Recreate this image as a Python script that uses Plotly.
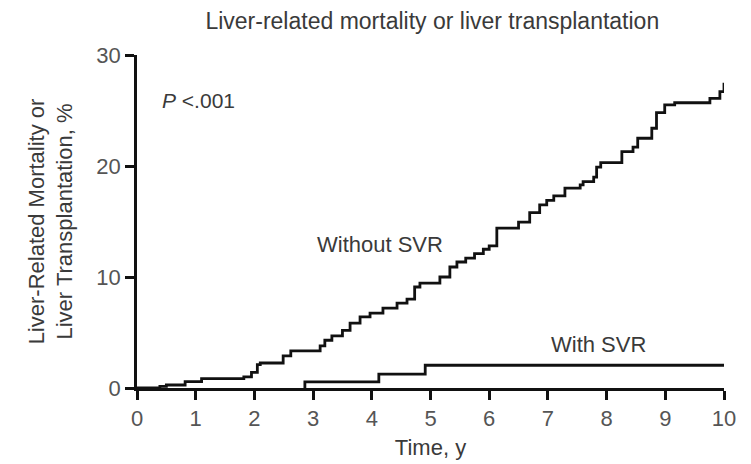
import plotly.graph_objects as go

# Without SVR: step times (years) and cumulative incidence (%)
without_t = [0.0, 0.39, 0.5, 0.82, 1.1, 1.82, 1.95, 2.05, 2.1, 2.49, 2.62, 3.12, 3.2, 3.32,
             3.5, 3.63, 3.8, 3.97, 4.19, 4.43, 4.6, 4.73, 4.82, 5.16, 5.33, 5.45, 5.6, 5.75,
             5.9, 6.0, 6.13, 6.5, 6.69, 6.86, 6.98, 7.1, 7.29, 7.55, 7.6, 7.78, 7.83, 7.9,
             8.26, 8.45, 8.53, 8.77, 8.85, 8.99, 9.16, 9.76, 9.93, 10.0]
without_v = [0.0, 0.15, 0.27, 0.57, 0.85, 1.0, 1.4, 2.1, 2.25, 2.9, 3.35, 3.8, 4.3, 4.7,
             5.2, 5.85, 6.4, 6.75, 7.2, 7.65, 8.0, 9.1, 9.45, 10.0, 10.9, 11.35, 11.7, 12.1,
             12.5, 12.8, 14.4, 14.95, 15.8, 16.5, 16.9, 17.3, 18.0, 18.3, 18.6, 19.0, 19.9, 20.3,
             21.3, 21.7, 22.5, 23.4, 24.8, 25.5, 25.7, 26.1, 26.7, 27.5]

# With SVR
with_t = [2.86, 4.12, 4.91, 10.0]
with_v = [0.55, 1.25, 2.05, 2.05]

x_ticks = [0, 1, 2, 3, 4, 5, 6, 7, 8, 9, 10]
y_ticks = [0, 10, 20, 30]

TEXT = "#3a3a3a"
TICK = "#555555"
FONT = "Liberation Sans, Arial, Helvetica, sans-serif"

fig = go.Figure()
fig.add_trace(go.Scatter(x=without_t, y=without_v, mode="lines", line_shape="hv",
                         line=dict(color="#111111", width=2.8), showlegend=False))
fig.add_trace(go.Scatter(x=[with_t[0]] + with_t, y=[0] + with_v, mode="lines", line_shape="hv",
                         line=dict(color="#111111", width=2.8), showlegend=False))

fig.add_annotation(x=0.39, y=25.9, text="<i>P</i> <.001", showarrow=False, xanchor="left",
                   font=dict(size=21, color=TEXT, family=FONT))
fig.add_annotation(x=4.14, y=12.9, text="Without SVR", showarrow=False,
                   font=dict(size=22, color=TEXT, family=FONT))
fig.add_annotation(x=7.87, y=3.9, text="With SVR", showarrow=False,
                   font=dict(size=22, color=TEXT, family=FONT))

fig.update_layout(
    width=751, height=464,
    margin=dict(l=129, r=35, t=47, b=84),
    paper_bgcolor="white", plot_bgcolor="white",
    title=dict(text="Liver-related mortality or liver transplantation", x=0.565, xanchor="center",
               y=0.972, yanchor="middle", font=dict(size=23, color=TEXT, family=FONT)),
    xaxis=dict(range=[0, 10], tickvals=x_ticks, showline=True, linecolor="#111111", linewidth=2.5,
               ticks="outside", ticklen=9, tickwidth=2.5, tickcolor="#111111", showgrid=False,
               zeroline=False, tickfont=dict(size=22, color=TICK, family=FONT),
               title=dict(text="Time, y", font=dict(size=22, color=TEXT, family=FONT), standoff=10)),
    yaxis=dict(range=[0, 30], tickvals=y_ticks, showline=True, linecolor="#111111", linewidth=2.5,
               ticks="outside", ticklen=9, tickwidth=2.5, tickcolor="#111111", showgrid=False,
               zeroline=False, tickfont=dict(size=22, color=TICK, family=FONT),
               title=dict(text="Liver-Related Mortality or<br>Liver Transplantation, %",
                          font=dict(size=22, color=TEXT, family=FONT), standoff=18)),
)

fig.write_html("out.html")
